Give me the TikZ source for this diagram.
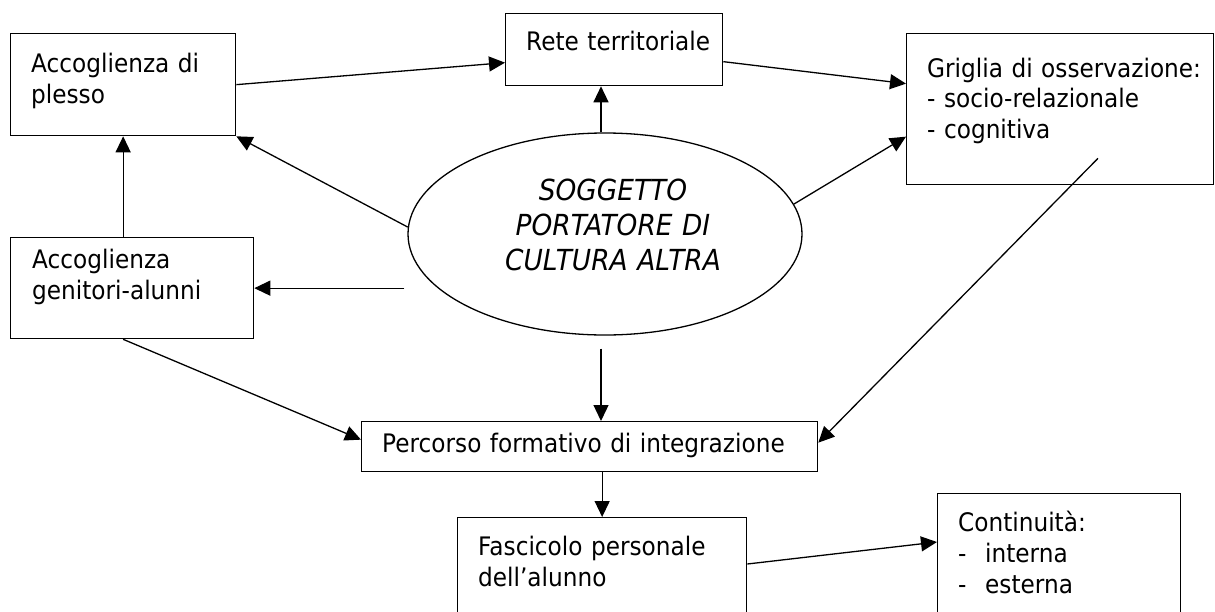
\documentclass[tikz,border=0pt]{standalone}
\usepackage{fontspec}
\setmainfont{DejaVu Sans}[FakeStretch=0.91]
\usetikzlibrary{arrows.meta,shapes.geometric,calc}
\newcommand{\boxfnt}{\fontsize{25.5}{31}\selectfont}
\newcommand{\ellfnt}{\fontsize{29}{35}\selectfont\itshape}
\tikzset{
  box/.style={draw, line width=1.3pt, rectangle, inner sep=0pt, anchor=north west},
  txt/.style={anchor=base west, inner sep=0pt, align=left, font=\boxfnt, text width=#1},
  txt/.default=300pt,
  arr/.style={-{Triangle[length=16pt,width=15pt]}, line width=1.3pt},
}
\begin{document}
\begin{tikzpicture}[x=1pt,y=-1pt]
\useasboundingbox (0,0) rectangle (1215,611);
\fill[white] (0,0) rectangle (1215,611);
\clip (0,0) rectangle (1215,611);
% boxes
\node[box, minimum width=225pt, minimum height=102pt] (plesso) at (10,33) {};
\node[txt] (plesso-t) at (31,72) {Accoglienza di\\plesso};
\node[box, minimum width=217pt, minimum height=72pt] (rete) at (505,13) {};
\node[txt] (rete-t) at (526,50) {Rete territoriale};
\node[box, minimum width=307pt, minimum height=151pt] (grig) at (906,33) {};
\node[txt, font=\fontsize{25.5}{30.5}\selectfont] (grig-t) at (927,77) {Griglia di osservazione:\\- socio-relazionale\\- cognitiva};
\node[box, minimum width=243pt, minimum height=101pt] (gen) at (10,237) {};
\node[txt] (gen-t) at (32,268) {Accoglienza\\genitori-alunni};
\node[box, minimum width=456pt, minimum height=50pt] (perc) at (361,421) {};
\node[txt=440pt] (perc-t) at (382,452) {Percorso formativo di integrazione};
\node[box, minimum width=289pt, minimum height=140pt] (fasc) at (457,517) {};
\node[txt] (fasc-t) at (478,555) {Fascicolo personale\\dell’alunno};
\node[box, minimum width=243pt, minimum height=160pt] (cont) at (937,493) {};
\node[txt] (cont-t) at (958,531) {Continuità:\\\makebox[27pt][l]{-}interna\\\makebox[27pt][l]{-}esterna};
% ellipse
\node[draw, ellipse, line width=1.3pt, inner sep=0pt, minimum width=394pt, minimum height=202pt] (ell) at (605,234) {};
\node[anchor=base, inner sep=0pt, align=center, text width=300pt, font=\ellfnt] (ell-t) at (613,200) {SOGGETTO\\PORTATORE DI\\CULTURA ALTRA};
% connectors
\coordinate (c6) at ([xshift=150pt]gen.east);
\coordinate (c10) at ([xshift=192pt,yshift=27pt]grig.south west);
\draw[arr] (plesso.east) -- ([yshift=-13pt]rete.west);
\draw[arr] ([xshift=-4pt]ell.north) -- ([xshift=-4pt]ell.north |- rete.south);
\draw[arr] ([yshift=-12pt]rete.east) -- ([yshift=25.5pt]grig.west);
\draw[arr] (ell.9) -- ([yshift=-27.5pt]grig.west);
\draw[arr] (ell.178) -- (plesso.south east);
\draw[arr] (c6) -- (gen.east);
\draw[arr] (gen.north -| plesso.south) -- (plesso.south);
\draw[arr] (gen.south -| plesso.south) -- ([yshift=7pt]perc.west);
\draw[arr] ([xshift=-4pt,yshift=-13pt]ell.south) -- ([xshift=-4pt]ell.south |- perc.north);
\draw[arr] (c10) -- ([yshift=4pt]perc.east);
\draw[arr] (perc.south -| fasc.north) -- (fasc.north);
\draw[arr] ([yshift=-47pt]fasc.north east) -- ([yshift=-49pt]cont.north west);
\end{tikzpicture}
\end{document}
